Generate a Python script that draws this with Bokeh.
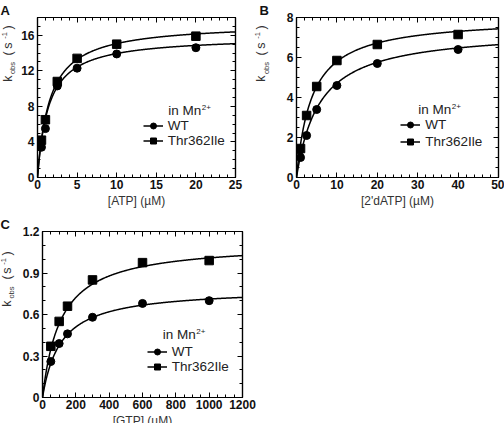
import numpy as np
from bokeh.plotting import figure
from bokeh.models import (Range1d, SingleIntervalTicker, LinearAxis, Label,
                          Legend, LegendItem, Title)
from bokeh.layouts import column, row
from bokeh.embed import file_html
from bokeh.resources import INLINE

# ---------------- data ----------------
# Panel A : [ATP] (uM)
a_wt_x = [0.5, 1, 2.5, 5, 10, 20]
a_wt_y = [3.4, 5.5, 10.3, 12.3, 13.9, 14.6]
a_mut_x = [0.25, 0.5, 1, 2.5, 5, 10, 20]
a_mut_y = [4.1, 4.2, 6.5, 10.8, 13.4, 15.0, 15.9]
a_wt_fit = [15.9, 1.4]      # kmax, Kd of hyperbolic fit
a_mut_fit = [17.4, 1.55]

# Panel B : [2'dATP] (uM)
b_wt_x = [1, 2.5, 5, 10, 20, 40]
b_wt_y = [1.0, 2.1, 3.4, 4.6, 5.7, 6.4]
b_mut_x = [0.5, 1, 2.5, 5, 10, 20, 40]
b_mut_y = [1.4, 1.45, 3.1, 4.55, 5.85, 6.65, 7.15]
b_wt_fit = [7.4, 5.7]
b_mut_fit = [8.0, 3.8]

# Panel C : [GTP] (uM)
c_wt_x = [50, 100, 150, 300, 600, 1000]
c_wt_y = [0.26, 0.39, 0.46, 0.58, 0.68, 0.70]
c_mut_x = [50, 100, 150, 300, 600, 1000]
c_mut_y = [0.37, 0.55, 0.66, 0.85, 0.975, 0.99]
c_wt_fit = [0.79, 110]
c_mut_fit = [1.12, 110]

series_labels = ["WT", "Thr362Ile"]

FONT = "Liberation Sans"
SW = 18   # width of the left strip holding the panel letter and y label


def add_label(p, sx, sy, text, size, bold=False, angle=0.0, align="left",
              baseline="middle", color="#222222"):
    p.add_layout(Label(x=sx, y=sy, x_units="screen", y_units="screen",
                       text=text, text_font=FONT, text_font_size=f"{size}px",
                       text_font_style="bold" if bold else "normal",
                       angle=angle, text_align=align, text_baseline=baseline,
                       text_color=color))


def make_panel(cfg):
    W, H = cfg["W"], cfg["H"]
    bl, br, bt, bb = cfg["borders"]
    xmax, ymax = cfg["xmax"], cfg["ymax"]

    # ---- left strip: panel letter (title) + rotated y-axis label ----
    letter = Title(text=cfg["letter"], align="left", offset=cfg["letter_off"],
                   standoff=0, text_font=FONT, text_font_size="13px",
                   text_font_style="bold", text_color="#111111")
    s = figure(width=SW, height=H, output_backend="svg", toolbar_location=None,
               title=letter, x_range=Range1d(0, 1), y_range=Range1d(0, 1),
               x_axis_location=None, y_axis_location=None, min_border=0)
    s.xgrid.visible = False
    s.ygrid.visible = False
    s.outline_line_color = None
    s.background_fill_color = "white"
    s.border_fill_color = "white"

    def slab(px, py, *a, **k):
        add_label(s, px, H - py, *a, **k)

    kx, ky = cfg["ylab"]
    offs = cfg["ylab_offs"]
    a = np.pi / 2
    grey = "#333333"
    slab(kx, ky, "k", 12.5, angle=a, align="center", color=grey)
    slab(kx + 5, ky + offs[0], "obs", 7.5, angle=a, align="center", color=grey)
    slab(kx, ky + offs[1], "(", 12.5, angle=a, align="center", color=grey)
    slab(kx, ky + offs[2], "s", 12.5, angle=a, align="center", color=grey)
    slab(kx - 3.5, ky + offs[3], "-1", 7.5, angle=a, align="center", color=grey)
    slab(kx, ky + offs[4], ")", 12.5, angle=a, align="center", color=grey)

    # ---- main plot ----
    mw = W - SW
    mbl = bl - SW
    p = figure(width=mw, height=H, output_backend="svg", toolbar_location=None,
               x_range=Range1d(0, xmax), y_range=Range1d(0, ymax),
               min_border_left=mbl, min_border_right=br,
               min_border_top=bt, min_border_bottom=bb)
    p.xgrid.visible = False
    p.ygrid.visible = False
    p.outline_line_color = "black"
    p.outline_line_width = 1.2
    p.background_fill_color = "white"
    p.border_fill_color = "white"

    def style_axis(ax, ticker, labels=True):
        ax.ticker = ticker
        ax.axis_line_color = "black"
        ax.axis_line_width = 1.2
        ax.major_tick_in = 5
        ax.major_tick_out = 0
        ax.minor_tick_in = 3
        ax.minor_tick_out = 0
        ax.major_tick_line_color = "black"
        ax.minor_tick_line_color = "black"
        ax.major_tick_line_width = 1
        ax.minor_tick_line_width = 1
        if labels:
            ax.major_label_text_font = FONT
            ax.major_label_text_font_size = "12px"
            ax.major_label_text_font_style = "bold"
            ax.major_label_text_color = "#111111"
            ax.major_label_standoff = 3
        else:
            ax.major_label_text_font_size = "2px"
            ax.major_label_text_color = None
            ax.major_label_standoff = 0

    xi, xm = cfg["xtick"]
    yi, ym = cfg["ytick"]
    style_axis(p.xaxis[0], SingleIntervalTicker(interval=xi, num_minor_ticks=xm))
    style_axis(p.yaxis[0], SingleIntervalTicker(interval=yi, num_minor_ticks=ym))
    p.xaxis[0].major_label_standoff = 2
    p.xaxis[0].axis_label = cfg["xlabel"]
    p.xaxis[0].axis_label_standoff = 2
    p.xaxis[0].axis_label_text_font = FONT
    p.xaxis[0].axis_label_text_font_size = "12px"
    p.xaxis[0].axis_label_text_font_style = "normal"
    p.xaxis[0].axis_label_text_color = "#333333"
    if cfg.get("yover"):
        p.yaxis[0].major_label_overrides = cfg["yover"]
    top = LinearAxis()
    style_axis(top, SingleIntervalTicker(interval=xi, num_minor_ticks=xm), labels=False)
    p.add_layout(top, "above")
    right = LinearAxis()
    style_axis(right, SingleIntervalTicker(interval=yi, num_minor_ticks=ym), labels=False)
    p.add_layout(right, "right")

    fl, fb = bl, H - bb   # frame left / bottom in panel pixels

    def plab(px, py, *a, **k):
        add_label(p, px - fl, fb - py, *a, **k)

    xs = np.linspace(0, xmax, 400)
    rends = []
    for (sx, sy), fit, marker, msize in [
            (cfg["wt"], cfg["wt_fit"], "circle", 8),
            (cfg["mut"], cfg["mut_fit"], "square", 8.5)]:
        kmax, kd = fit
        l = p.line(xs, kmax * xs / (kd + xs), line_color="black", line_width=1.5)
        sc = p.scatter(sx, sy, marker=marker, size=msize, fill_color="black",
                       line_color="black")
        rends.append((l, sc))

    lx, ly, lsp = cfg["legend"]
    legend = Legend(items=[LegendItem(label=series_labels[0], renderers=list(rends[0])),
                           LegendItem(label=series_labels[1], renderers=list(rends[1]))],
                    location=(lx - fl, fb - ly), glyph_width=20, glyph_height=15,
                    label_height=15, label_standoff=5, spacing=lsp, padding=0,
                    margin=0, border_line_alpha=0, background_fill_alpha=0,
                    label_text_font=FONT, label_text_font_size="13.5px",
                    label_text_color="#222222")
    p.add_layout(legend)

    tx, ty = cfg["title"]
    plab(tx, ty, "in Mn", 13.5)
    plab(tx + 33.5, ty - 3, "2+", 8)

    return row(s, p)


YOFFS = (-10.5, -25, -33, -43, -51)

pA = make_panel(dict(W=252, H=210, borders=(36, 17, 8, 30), xmax=25, ymax=18,
                     xtick=(5, 5), ytick=(4, 4), wt=(a_wt_x, a_wt_y),
                     mut=(a_mut_x, a_mut_y), wt_fit=a_wt_fit, mut_fit=a_mut_fit,
                     legend=(141.7, 150.8, 0), title=(166.7, 112.5),
                     letter="A", letter_off=0,
                     xlabel="[ATP] (\u00b5M)",
                     ylab=(7, 111), ylab_offs=YOFFS))

pB = make_panel(dict(W=252, H=210, borders=(44, 6, 11, 29), xmax=50, ymax=8,
                     xtick=(10, 5), ytick=(2, 4), wt=(b_wt_x, b_wt_y),
                     mut=(b_mut_x, b_mut_y), wt_fit=b_wt_fit, mut_fit=b_mut_fit,
                     legend=(148.3, 152.5, 2), title=(165.7, 113),
                     letter="B", letter_off=7,
                     xlabel="[2'dATP] (\u00b5M)",
                     ylab=(8.5, 111), ylab_offs=YOFFS))

pC = make_panel(dict(W=280, H=220, borders=(42, 38, 21, 29), xmax=1200, ymax=1.2,
                     xtick=(200, 4), ytick=(0.3, 3), wt=(c_wt_x, c_wt_y),
                     mut=(c_mut_x, c_mut_y), wt_fit=c_wt_fit, mut_fit=c_mut_fit,
                     yover={0: "0"},
                     legend=(146.7, 168.2, 0), title=(162.3, 128.3),
                     letter="C", letter_off=0,
                     xlabel="[GTP] (\u00b5M)",
                     ylab=(6, 126), ylab_offs=(-11, -26, -33, -42, -50)))

layout = column(row(pA, pB), pC)

html = file_html(layout, INLINE)
html = html.replace("</head>",
                    "<style>html,body{margin:0;overflow:hidden;}</style></head>", 1)
with open("out.html", "w") as f:
    f.write(html)
